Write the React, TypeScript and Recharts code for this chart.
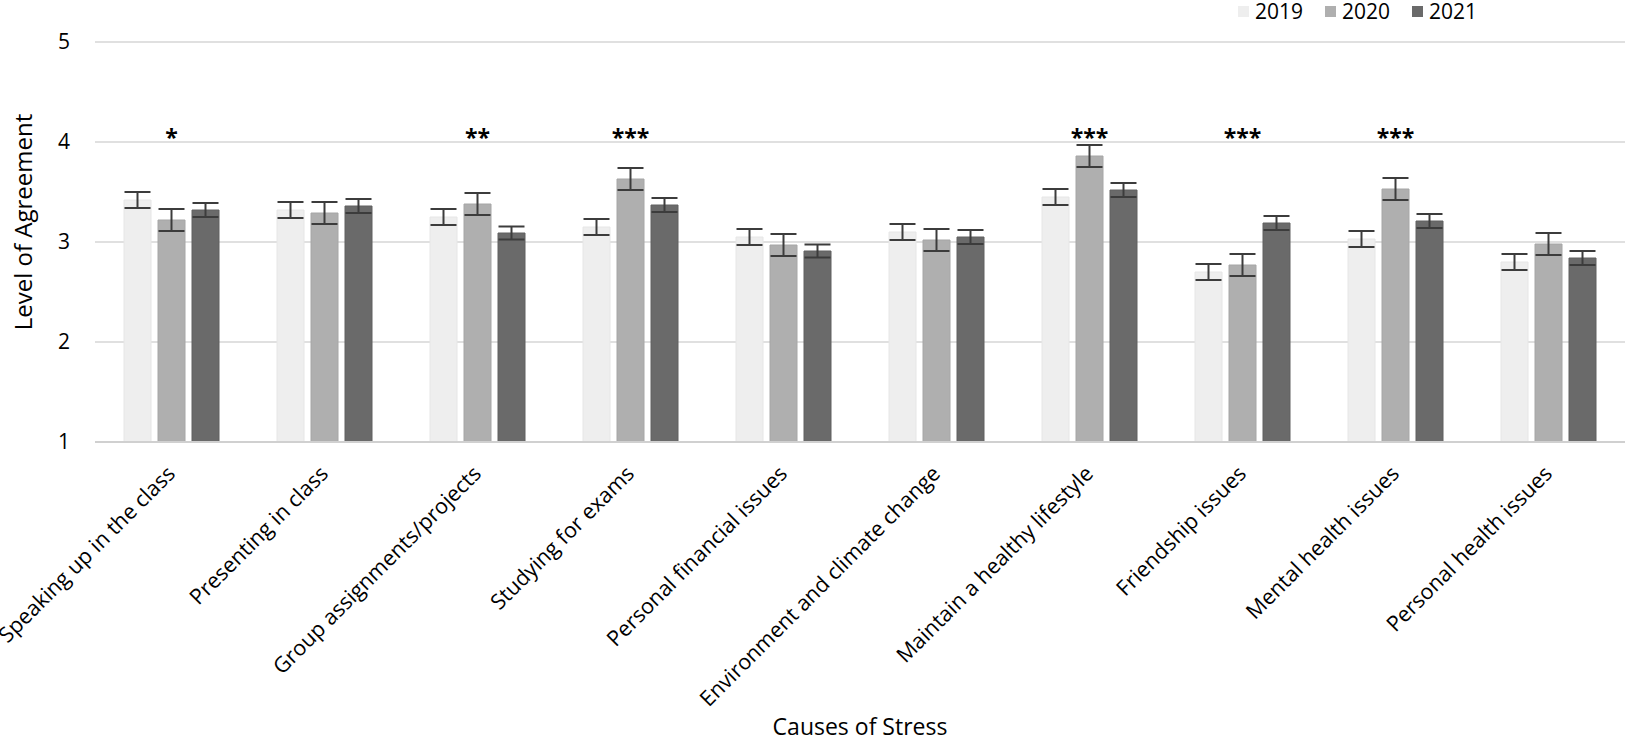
import React from 'react';
import {
  BarChart,
  Bar,
  XAxis,
  YAxis,
  CartesianGrid,
  ErrorBar,
  Legend,
  ReferenceDot,
  Label,
} from 'recharts';

const categories = [
  'Speaking up in the class',
  'Presenting in class',
  'Group assignments/projects',
  'Studying for exams',
  'Personal financial issues',
  'Environment and climate change',
  'Maintain a healthy lifestyle',
  'Friendship issues',
  'Mental health issues',
  'Personal health issues',
];

const values2019 = [3.42, 3.32, 3.25, 3.15, 3.05, 3.1, 3.45, 2.7, 3.03, 2.8];
const values2020 = [3.22, 3.29, 3.38, 3.63, 2.97, 3.02, 3.86, 2.77, 3.53, 2.98];
const values2021 = [3.32, 3.36, 3.09, 3.37, 2.91, 3.05, 3.52, 3.19, 3.21, 2.84];

const err2019 = [0.08, 0.08, 0.08, 0.08, 0.08, 0.08, 0.08, 0.08, 0.08, 0.08];
const err2020 = [0.11, 0.11, 0.11, 0.11, 0.11, 0.11, 0.11, 0.11, 0.11, 0.11];
const err2021 = [0.07, 0.07, 0.065, 0.07, 0.065, 0.07, 0.07, 0.07, 0.07, 0.07];

// significance markers above each group
const significance = ['*', '', '**', '***', '', '', '***', '***', '***', ''];
const markerLevel = 4.08;

const yTicks = [1, 2, 3, 4, 5];

const seriesInfo = [
  { key: 'y2019', err: 'e2019', name: '2019', fill: '#eeeeee', stroke: '#e6e6e6' },
  { key: 'y2020', err: 'e2020', name: '2020', fill: '#afafaf', stroke: '#a6a6a6' },
  { key: 'y2021', err: 'e2021', name: '2021', fill: '#6a6a6a', stroke: '#606060' },
];

const data = categories.map((name, i) => ({
  name,
  y2019: values2019[i],
  y2020: values2020[i],
  y2021: values2021[i],
  e2019: err2019[i],
  e2020: err2020[i],
  e2021: err2021[i],
}));

const FONT = '"Open Sans", "Noto Sans", sans-serif';

const XTick = (props: any) => {
  const { x, y, payload } = props;
  return (
    <g transform={`translate(${x + 5},${y})`}>
      <text
        x={0}
        y={0}
        textAnchor="end"
        transform="rotate(-45)"
        fontSize={21.5}
        fontFamily={FONT}
        fill="#000"
      >
        {payload.value}
      </text>
    </g>
  );
};

const LegendContent = () => (
  <div style={{ display: 'flex', fontFamily: FONT, fontSize: 21, color: '#000', lineHeight: '22px' }}>
    {seriesInfo.map((s) => (
      <div key={s.key} style={{ display: 'flex', alignItems: 'center', marginRight: 22 }}>
        <span style={{ width: 11, height: 11, background: s.fill, display: 'inline-block', marginRight: 6 }} />
        <span>{s.name}</span>
      </div>
    ))}
  </div>
);

const App = () => {
  return (
    <div style={{ width: 1625, height: 738, background: '#fff' }}>
      <style>{'body{margin:0;}'}</style>
      <BarChart
        width={1625}
        height={738}
        data={data}
        margin={{ top: 42, right: 0, left: 0, bottom: 0 }}
        barSize={27}
        barGap={7}
        style={{ fontFamily: FONT }}
      >
        <CartesianGrid vertical={false} stroke="#d6d6d6" strokeWidth={1.5} />
        <XAxis
          dataKey="name"
          interval={0}
          height={296}
          tickLine={false}
          tickSize={0}
          tickMargin={33}
          axisLine={{ stroke: '#d0d0d0', strokeWidth: 2 }}
          tick={<XTick />}
        >
          <Label
            value="Causes of Stress"
            position="insideBottom"
            offset={3}
            style={{ fontSize: 23, fontFamily: FONT, fill: '#000' }}
          />
        </XAxis>
        <YAxis
          type="number"
          domain={[1, 5]}
          ticks={yTicks}
          width={95}
          axisLine={false}
          tickLine={false}
          tickSize={0}
          tickMargin={25}
          tick={{ fontSize: 21, fill: '#000', fontFamily: FONT }}
        >
          <Label
            content={(p: any) => {
              const vb = p.viewBox;
              const cx = vb.x + 22;
              const cy = vb.y + vb.height / 2 - 20;
              return (
                <text
                  x={cx}
                  y={cy}
                  textAnchor="middle"
                  dominantBaseline="central"
                  transform={`rotate(-90, ${cx}, ${cy})`}
                  fontSize={24}
                  fontFamily={FONT}
                  fill="#000"
                >
                  Level of Agreement
                </text>
              );
            }}
          />
        </YAxis>
        <Legend
          verticalAlign="middle"
          align="center"
          wrapperStyle={{ top: 0, left: 1238, width: 300 }}
          content={<LegendContent />}
        />
        {seriesInfo.map((s) => (
          <Bar
            key={s.key}
            dataKey={s.key}
            name={s.name}
            fill={s.fill}
            stroke={s.stroke}
            strokeWidth={1}
            isAnimationActive={false}
          >
            <ErrorBar dataKey={s.err} width={13} strokeWidth={2} stroke="#3c3c3c" />
          </Bar>
        ))}
        {categories.map((c, i) =>
          significance[i] ? (
            <ReferenceDot
              key={c}
              x={c}
              y={markerLevel}
              r={0}
              isFront
              shape={(p: any) => (
                <text
                  x={p.cx}
                  y={p.cy + 12}
                  textAnchor="middle"
                  fontSize={23}
                  fontWeight="bold"
                  fontFamily={FONT}
                  fill="#000"
                >
                  {significance[i]}
                </text>
              )}
            />
          ) : null
        )}
      </BarChart>
    </div>
  );
};

export default App;
